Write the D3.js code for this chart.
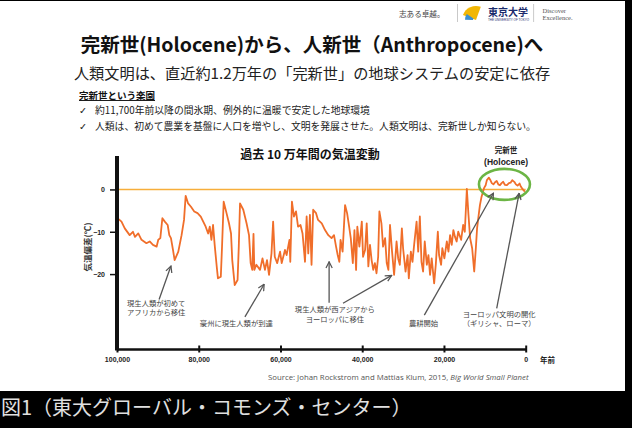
<!DOCTYPE html>
<html lang="ja">
<head>
<meta charset="utf-8">
<script src="https://cdn.jsdelivr.net/npm/d3@7.9.0/dist/d3.min.js"></script>
<style>
  body { margin: 0; background: #000; }
  svg { display: block; font-family: "Noto Sans CJK JP", "Noto Sans", sans-serif; }
</style>
</head>
<body>
<svg id="chart" width="632" height="428"></svg>
<script>
/* data: years before present, temperature anomaly (°C) */
const yearsAgo = [
  99600, 98900, 98100, 96900, 96100, 95600, 94800, 94000, 92800, 92000,
  91200, 90300, 89900, 89400, 88900, 88300, 87600, 87200, 86800, 86300,
  85900, 85000, 84200, 83600, 83200, 82600, 81900, 81100, 80300, 79500,
  78900, 78300, 77700, 77300, 76900, 76500, 76100, 75600, 75300, 74600,
  74300, 73900, 73200, 72600, 72100, 71800, 71200, 70500, 70200, 69900,
  69100, 68300, 67700, 67300, 66900, 66600, 66400, 65900, 65000, 64400,
  63800, 63300, 62800, 62200, 61800, 61400, 60800, 60100, 59700, 58900,
  58500, 57800, 57600, 57200, 56700, 56200, 55700, 55100, 54600, 54000,
  53600, 53200, 52800, 52400, 52000, 51300, 50800, 49900, 49100, 48300,
  47500, 46900, 46400, 46000, 45600, 45300, 44800, 44200, 43700, 43200,
  42800, 42300, 41900, 41500, 41200, 40700, 40100, 39800, 39300, 38900,
  38500, 38100, 37700, 37300, 36900, 36500, 36100, 35800, 35300, 34900,
  34400, 34000, 33600, 33200, 32700, 32200, 31600, 31200, 30800, 30300,
  30000, 29400, 28900, 28600, 28100, 27700, 27300, 26700, 26300, 25900,
  25500, 25100, 24700, 24200, 23800, 23400, 23000, 22400, 22000, 21500,
  21200, 20700, 20400, 19900, 19300, 18900, 18500, 18100, 17700, 17300,
  16900, 16500, 15800, 15300, 14900, 14400, 14000, 13600, 13100, 12600,
  12200, 11900, 11600, 11200, 10800, 10200, 9800, 9500, 9000, 8700,
  8300, 7900, 7500, 7100, 6700, 6300, 5900, 5500, 5100, 4600,
  4100, 3700, 3300, 2800, 2400, 2000, 1800, 1500, 1200, 900,
  600, 200
];
const tempAnomaly = [
  -7.0, -7.6, -9.2, -10.8, -10.0, -11.2, -10.4, -11.9, -12.7, -12.3,
  -13.1, -13.5, -11.9, -11.5, -6.8, -7.6, -8.4, -10.8, -11.5, -14.3,
  -16.7, -14.7, -10.8, -7.2, -1.5, -3.3, -4.1, -5.2, -5.6, -6.4,
  -7.6, -8.8, -10.4, -8.8, -11.9, -8.4, -13.1, -18.2, -21.0, -20.6,
  -13.5, -2.9, -5.6, -8.0, -10.4, -16.7, -22.6, -21.4, -13.5, -3.3,
  -4.8, -8.0, -10.8, -17.4, -19.0, -10.5, -19.0, -17.8, -19.0, -16.3,
  -19.0, -16.7, -20.2, -15.1, -7.6, -15.9, -17.4, -14.7, -17.4, -14.3,
  -15.5, -11.9, -17.1, -2.9, -6.4, -5.2, -8.8, -8.4, -10.4, -17.1,
  -6.4, -15.1, -6.0, -17.8, -4.8, -5.6, -7.2, -8.0, -9.6, -10.8,
  -11.5, -10.8, -13.5, -15.5, -17.1, -11.9, -14.7, -3.7, -5.6, -8.8,
  -11.5, -17.4, -9.6, -19.0, -8.8, -13.5, -7.6, -15.9, -14.3, -8.0,
  -18.2, -13.1, -16.7, -19.0, -17.4, -19.8, -15.9, -5.2, -8.0, -13.5,
  -11.5, -17.4, -19.0, -8.4, -14.7, -20.2, -12.3, -16.3, -17.8, -9.2,
  -13.9, -19.4, -15.5, -21.0, -14.7, -17.1, -13.1, -7.6, -14.7, -6.4,
  -17.1, -19.4, -12.3, -17.8, -15.5, -20.2, -16.3, -22.2, -17.8, -10.0,
  -15.5, -17.8, -13.9, -16.3, -12.3, -14.7, -10.8, -13.1, -9.6, -11.2,
  -12.3, -10.0, -11.9, -8.4, -10.0, 0.1, -6.0, -11.5, -13.9, -19.4,
  -13.9, -9.2, -6.8, -3.7, -1.7, 0.3, 1.0, 2.2, 2.8, 2.3,
  1.5, 1.2, 1.7, 2.0, 1.2, 1.0, 1.5, 1.8, 1.1, 1.0,
  1.5, 1.6, 2.2, 1.8, 1.2, 0.9, 1.1, 1.4, 0.7, 0.3,
  -0.1, -0.5
];
const xTicks = [100000, 80000, 60000, 40000, 20000, 0];
const yTicks = [0, -10, -20];

const slideTitle = '完新世(Holocene)から、人新世（Anthropocene)へ';
const slideSubtitle = '人類文明は、直近約1.2万年の「完新世」の地球システムの安定に依存';
const sectionHead = '完新世という楽園';
const bullets = [
  '約11,700年前以降の間氷期、例外的に温暖で安定した地球環境',
  '人類は、初めて農業を基盤に人口を増やし、文明を発展させた。人類文明は、完新世しか知らない。'
];
const chartTitle = '過去 10 万年間の気温変動';
const yLabel = '気温偏差(℃)';
const xUnit = '年前';
const caption = '図1（東大グローバル・コモンズ・センター）';

/* annotations, anchored in data space (years ago, °C) */
const notes = [
  { lines: ['現生人類が初めて', 'アフリカから移住'], at: [90400, -27.5],
    arrows: [[[89700, -26.0], [86800, -18.1]]] },
  { lines: ['豪州に現生人類が到達'], at: [70800, -32.2],
    arrows: [[[68700, -30.1], [64000, -22.4]]] },
  { lines: ['現生人類が西アジアから', 'ヨーロッパに移住'], at: [46700, -29.0],
    arrows: [[[48100, -26.8], [48100, -17.1]], [[44700, -26.9], [32800, -20.3]]] },
  { lines: ['農耕開始'], at: [25000, -32.2],
    arrows: [[[24800, -29.7], [7900, -0.9]]] },
  { lines: ['ヨーロッパ文明の開化', '（ギリシャ、ローマ）'], at: [6500, -30.1],
    arrows: [[[7100, -28.1], [1600, -0.9]]] }
];

const svg = d3.select('#chart');

/* slide */
svg.append('rect').attr('width', 632).attr('height', 428).attr('fill', '#000');
svg.append('rect').attr('x', 0).attr('y', 1).attr('width', 625).attr('height', 390).attr('fill', '#fff');

/* header logo */
svg.append('text').attr('x', 399).attr('y', 17).attr('font-size', 7.6)
  .attr('fill', '#444').attr('font-family', 'DejaVu Serif, Noto Sans CJK JP')
  .text('志ある卓越。');
svg.append('line').attr('x1', 457.5).attr('x2', 457.5).attr('y1', 4).attr('y2', 22)
  .attr('stroke', '#bbb').attr('stroke-width', 0.8);
let leaf = d3.arc();
svg.append('path').attr('transform', 'translate(476,20)')
  .attr('d', leaf({ innerRadius: 0, outerRadius: 14, startAngle: -1.2, endAngle: 0.35 }))
  .attr('fill', '#f2b705');
svg.append('path').attr('transform', 'translate(476,20)')
  .attr('d', leaf({ innerRadius: 3, outerRadius: 11, startAngle: -1.55, endAngle: -1.0 }))
  .attr('fill', '#3c8fd0');
svg.append('text').attr('x', 488).attr('y', 15.5).attr('font-size', 10)
  .attr('font-weight', 'bold').attr('fill', '#1a2a6c').text('東京大学');
svg.append('text').attr('x', 488).attr('y', 20.5).attr('font-size', 3)
  .attr('fill', '#1a2a6c').attr('font-family', 'Liberation Sans').text('THE UNIVERSITY OF TOKYO');
svg.append('line').attr('x1', 533.6).attr('x2', 533.6).attr('y1', 4).attr('y2', 22)
  .attr('stroke', '#bbb').attr('stroke-width', 0.8);
svg.append('text').attr('x', 542.5).attr('y', 13).attr('font-size', 6.5)
  .attr('fill', '#555').attr('font-family', 'Liberation Serif').text('Discover');
svg.append('text').attr('x', 542.5).attr('y', 20).attr('font-size', 6.5)
  .attr('fill', '#555').attr('font-family', 'Liberation Serif').text('Excellence.');

/* headings */
svg.append('text').attr('x', 312).attr('y', 52).attr('text-anchor', 'middle')
  .attr('font-size', 19.5).attr('font-weight', 'bold').attr('fill', '#111').text(slideTitle);
svg.append('text').attr('x', 312).attr('y', 79).attr('text-anchor', 'middle')
  .attr('font-size', 15.2).attr('fill', '#222').text(slideSubtitle);
svg.append('text').attr('x', 79).attr('y', 99).attr('font-size', 9.5)
  .attr('font-weight', 'bold').attr('fill', '#111')
  .attr('text-decoration', 'underline').text(sectionHead);
bullets.forEach((b, i) => {
  let g = svg.append('g').attr('transform', `translate(79,${113.5 + i * 16.5})`);
  g.append('text').attr('font-size', 9.5).attr('fill', '#222')
    .attr('font-family', 'DejaVu Sans').text('✓');
  g.append('text').attr('x', 16).attr('font-size', 9.8).attr('fill', '#222').text(b);
});

/* chart */
let x = d3.scaleLinear().domain([100000, 0]).range([117, 525.7]);
let y = d3.scaleLinear().domain([-37.7, 7.9]).range([349, 156]);

svg.append('text').attr('x', 310).attr('y', 159).attr('text-anchor', 'middle')
  .attr('font-size', 12).attr('font-weight', 'bold').attr('fill', '#111').text(chartTitle);

svg.append('line')
  .attr('x1', x(100000)).attr('x2', x(0)).attr('y1', y(0)).attr('y2', y(0))
  .attr('stroke', '#f7ae3b').attr('stroke-width', 1.6);

let line = d3.line()
  .x((d, i) => x(yearsAgo[i]))
  .y((d) => y(d));
svg.append('path')
  .attr('d', line(tempAnomaly))
  .attr('fill', 'none')
  .attr('stroke', '#f06e2a')
  .attr('stroke-width', 1.8)
  .attr('stroke-linejoin', 'round');

/* axes */
let xAxis = svg.append('g').attr('transform', `translate(0,${y.range()[0]})`)
  .call(d3.axisBottom(x).tickValues(xTicks).tickSizeInner(3).tickSizeOuter(0)
    .tickPadding(5).tickFormat(d3.format(',')));
xAxis.select('.domain').attr('stroke', '#111').attr('stroke-width', 2.5);
xAxis.selectAll('.tick line').attr('y1', -3.5).attr('y2', 3.5).attr('stroke-width', 2).attr('stroke', '#111');
xAxis.selectAll('.tick text').attr('font-size', 7).attr('font-weight', 'bold')
  .attr('font-family', 'Liberation Sans').attr('fill', '#222');

let yAxis = svg.append('g').attr('transform', `translate(${x.range()[0]},0)`)
  .call(d3.axisLeft(y).tickValues(yTicks).tickSizeInner(7).tickSizeOuter(0).tickPadding(5));
yAxis.select('.domain').attr('stroke', '#111').attr('stroke-width', 4)
  .attr('d', `M0,${y.range()[1]}V${y.range()[0] + 1.5}`);
yAxis.selectAll('.tick line').attr('stroke', '#111').attr('stroke-width', 1.5);
yAxis.selectAll('.tick text').attr('font-size', 7).attr('font-weight', 'bold')
  .attr('font-family', 'Liberation Sans').attr('fill', '#222');

svg.append('text').attr('x', 540).attr('y', 363).attr('font-size', 7.5)
  .attr('font-weight', 'bold').attr('fill', '#222').text(xUnit);

svg.append('text').attr('transform', 'translate(91,247) rotate(-90)')
  .attr('text-anchor', 'middle').attr('font-size', 8.5).attr('font-weight', 'bold')
  .attr('fill', '#333').text(yLabel);

/* holocene ring */
svg.append('ellipse').attr('cx', x(5200)).attr('cy', y(1.2)).attr('rx', 25.5).attr('ry', 15.5)
  .attr('fill', 'none').attr('stroke', '#6cb545').attr('stroke-width', 2.6);
svg.append('text').attr('x', x(4800)).attr('y', y(8.6)).attr('text-anchor', 'middle')
  .attr('font-size', 7.5).attr('font-weight', 'bold').attr('fill', '#222').text('完新世');
svg.append('text').attr('x', x(4800)).attr('y', y(5.8)).attr('text-anchor', 'middle')
  .attr('font-size', 8.5).attr('font-weight', 'bold').attr('font-family', 'Liberation Sans')
  .attr('fill', '#222').text('(Holocene)');

/* annotations */
svg.append('defs').append('marker')
  .attr('id', 'head').attr('viewBox', '0 0 10 10').attr('refX', 9).attr('refY', 5)
  .attr('markerWidth', 6).attr('markerHeight', 6).attr('orient', 'auto')
  .append('path').attr('d', 'M1,1 L9,5 L1,9').attr('fill', 'none')
  .attr('stroke', '#555').attr('stroke-width', 1.6);

notes.forEach((n) => {
  n.arrows.forEach(([from, to]) => {
    svg.append('line')
      .attr('x1', x(from[0])).attr('y1', y(from[1]))
      .attr('x2', x(to[0])).attr('y2', y(to[1]))
      .attr('stroke', '#555').attr('stroke-width', 1.3)
      .attr('marker-end', 'url(#head)');
  });
  let t = svg.append('text').attr('text-anchor', 'middle').attr('font-size', 7.3).attr('fill', '#444');
  n.lines.forEach((l, i) => {
    t.append('tspan').attr('x', x(n.at[0])).attr('y', y(n.at[1]) + i * 9.5).text(l);
  });
});

/* source */
let src = svg.append('text').attr('x', 268).attr('y', 380).attr('font-size', 7.8)
  .attr('font-family', 'Open Sans').attr('fill', '#555');
src.append('tspan').text('Source: Johan Rockstrom and Mattias Klum, 2015, ');
src.append('tspan').attr('font-style', 'italic').text('Big World Small Planet');

/* caption */
svg.append('text').attr('x', 1).attr('y', 415).attr('font-size', 20)
  .attr('fill', '#e0e0e0').text(caption);
</script>
</body>
</html>
